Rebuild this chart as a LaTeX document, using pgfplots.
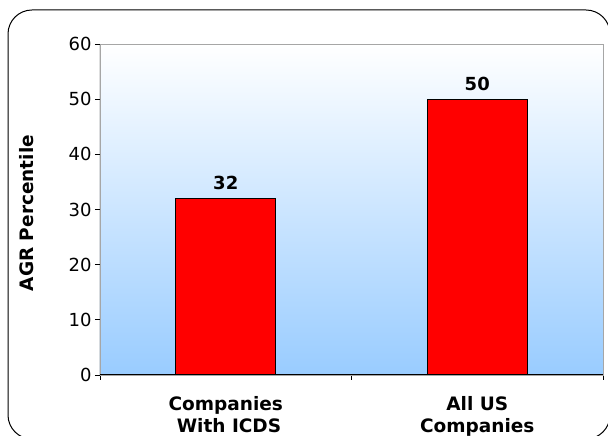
\documentclass[border=0pt]{standalone}
\usepackage{fontspec}
\setmainfont{DejaVu Sans}
\usepackage{pgfplots}
\pgfplotsset{compat=1.18}
\definecolor{bgblue}{RGB}{153,204,255}
\begin{document}
\begin{tikzpicture}
\useasboundingbox (0,0) rectangle (608pt,436pt);
\clip (0,0) rectangle (608pt,436pt);
\draw[line width=1pt, rounded corners=24pt] (8pt,-3pt) rectangle (610pt,426pt);
\begin{axis}[
  at={(100pt,61pt)}, anchor=south west,
  scale only axis, width=503pt, height=331pt,
  xmin=-0.5, xmax=1.5, ymin=0, ymax=60,
  ytick={0,10,...,60},
  xtick={-0.5,0.5,1.5}, xticklabels={},
  extra x ticks={0,1},
  extra x tick labels={Companies\\\ With ICDS, All US\\Companies},
  extra x tick style={major tick length=0pt, tick label style={font=\fontsize{18.5}{22}\selectfont\bfseries, align=center, yshift=-18pt}},
  tick align=outside, major tick length=5pt,
  tick style={black, line width=0.8pt},
  xtick pos=bottom, ytick pos=left,
  /pgf/number format/assume math mode=true,
  yticklabel style={font=\fontsize{18}{20}\selectfont},
  axis line style={draw=gray!70, line width=0.8pt},
  axis background/.style={shade, top color=white, bottom color=bgblue},
  ylabel={AGR Percentile},
  ylabel style={font=\fontsize{18.5}{21}\selectfont\bfseries, at={(axis description cs:-0.145,0.489)}, anchor=center},
  ybar, bar width=100pt,
  nodes near coords,
  nodes near coords style={font=\fontsize{18}{20}\selectfont\bfseries, anchor=south, inner sep=0pt, yshift=8pt},
]
\addplot[fill=red, draw=black, line width=1pt] coordinates {(0,32) (1,50)};
\draw[black, line width=1pt] (rel axis cs:0,1) -- (rel axis cs:0,0) -- (rel axis cs:1,0);
\end{axis}
\end{tikzpicture}
\end{document}
